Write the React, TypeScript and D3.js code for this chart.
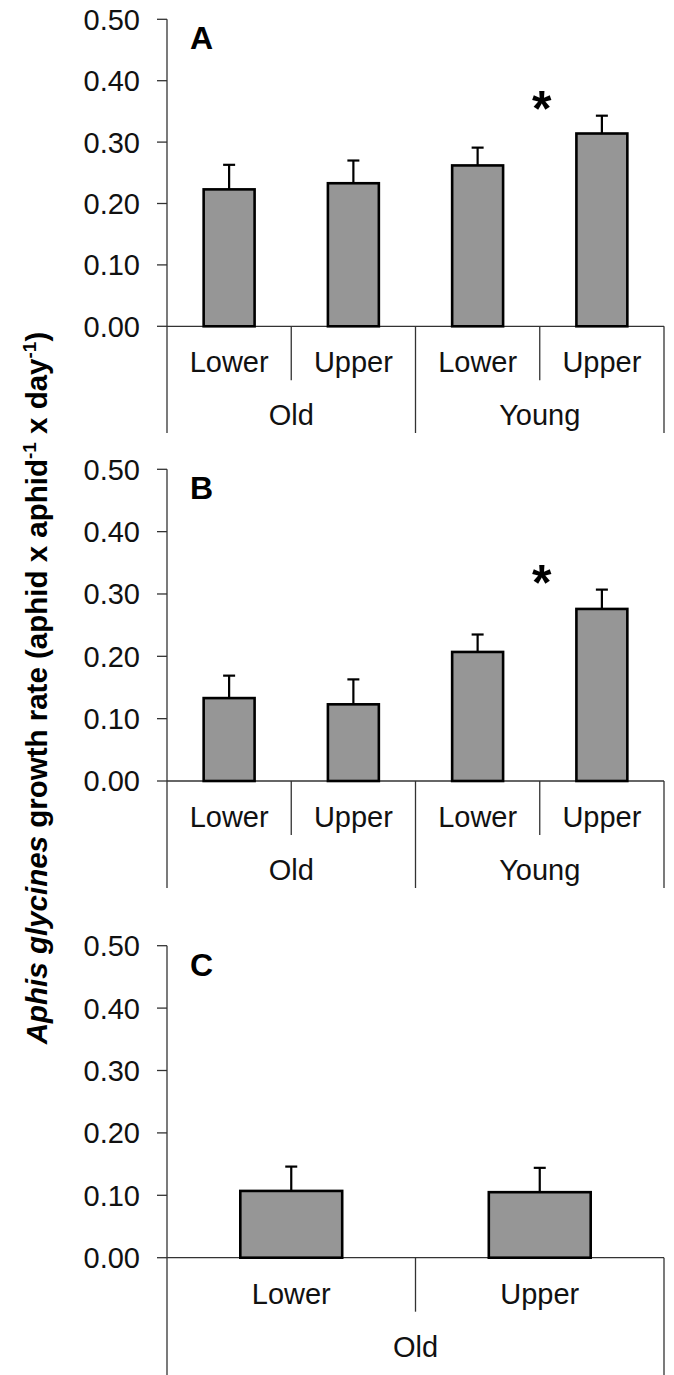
import React from "react";
import * as d3 from "d3";

// ---------- data ----------
const categoriesAB = ["Lower", "Upper", "Lower", "Upper"];
const groupsAB = ["Old", "Young"];
const categoriesC = ["Lower", "Upper"];
const groupsC = ["Old"];

const meansA = [0.223, 0.233, 0.262, 0.314];
const seA = [0.040, 0.037, 0.029, 0.029];
const meansB = [0.133, 0.123, 0.207, 0.276];
const seB = [0.036, 0.040, 0.028, 0.031];
const meansC = [0.107, 0.105];
const seC = [0.039, 0.039];

// significance star: [value level, category index whose left edge it sits on]
const starA = [0.37, 3];
const starB = [0.333, 3];

const yTicks = [0, 0.1, 0.2, 0.3, 0.4, 0.5];
const fmt = d3.format(".2f");

// ---------- layout ----------
const FONT = "'Liberation Sans', Arial, Helvetica, sans-serif";
const X0 = 167;
const X1 = 664;

type PanelProps = {
  letter: string;
  top: number;
  bottom: number;
  cats: string[];
  groups: string[];
  means: number[];
  se: number[];
  star?: number[];
  lineEnd: number;
};

function Panel({ letter, top, bottom, cats, groups, means, se, star, lineEnd }: PanelProps) {
  const y = d3.scaleLinear().domain([0, 0.5]).range([bottom, top]);
  const x = d3
    .scaleBand<number>()
    .domain(cats.map((_, i) => i))
    .range([X0, X1])
    .padding(0);
  const step = x.step();
  const barW = step * 0.41;
  const perGroup = cats.length / groups.length;
  const boundaries = d3.range(1, cats.length + 1);

  return (
    <g>
      {/* y axis */}
      <line x1={X0} x2={X0} y1={y(0.5)} y2={lineEnd} stroke="#333" strokeWidth={1.3} />
      {yTicks.map((t) => (
        <g key={t}>
          <line x1={X0 - 10} x2={X0} y1={y(t)} y2={y(t)} stroke="#333" strokeWidth={1.3} />
          <text
            x={140}
            y={y(t)}
            dy="0.36em"
            textAnchor="end"
            fontSize={29}
            fontFamily={FONT}
            fill="#111"
          >
            {fmt(t)}
          </text>
        </g>
      ))}
      {/* baseline */}
      <line x1={X0} x2={X1} y1={y(0)} y2={y(0)} stroke="#333" strokeWidth={1.3} />
      {/* separators */}
      {boundaries.map((b) => {
        const bx = X0 + b * step;
        const full = b % perGroup === 0;
        return (
          <line
            key={b}
            x1={bx}
            x2={bx}
            y1={y(0)}
            y2={full ? lineEnd : y(0) + 54}
            stroke="#333"
            strokeWidth={1.3}
          />
        );
      })}
      {/* bars */}
      {means.map((m, i) => {
        const cx = (x(i) as number) + step / 2;
        return (
          <g key={i}>
            <line
              x1={cx}
              x2={cx}
              y1={y(m)}
              y2={y(m + se[i])}
              stroke="#000"
              strokeWidth={2.2}
            />
            <line
              x1={cx - 6}
              x2={cx + 6}
              y1={y(m + se[i])}
              y2={y(m + se[i])}
              stroke="#000"
              strokeWidth={2.2}
            />
            <rect
              x={cx - barW / 2}
              y={y(m)}
              width={barW}
              height={y(0) - y(m)}
              fill="#969696"
              stroke="#000"
              strokeWidth={2.6}
            />
          </g>
        );
      })}
      {/* category labels */}
      {cats.map((c, i) => (
        <text
          key={i}
          x={(x(i) as number) + step / 2}
          y={y(0) + 46}
          textAnchor="middle"
          fontSize={29}
          fontFamily={FONT}
          fill="#111"
        >
          {c}
        </text>
      ))}
      {/* group labels */}
      {groups.map((g, gi) => (
        <text
          key={gi}
          x={X0 + (gi + 0.5) * perGroup * step}
          y={y(0) + 99}
          textAnchor="middle"
          fontSize={29}
          fontFamily={FONT}
          fill="#111"
        >
          {g}
        </text>
      ))}
      {/* panel letter */}
      <text
        x={190}
        y={top + 30}
        fontSize={32}
        fontWeight="bold"
        fontFamily={FONT}
        fill="#000"
      >
        {letter}
      </text>
      {star && (
        <text
          x={X0 + star[1] * step + 2}
          y={y(star[0]) + 27}
          textAnchor="middle"
          fontSize={50}
          fontWeight="bold"
          fontFamily={FONT}
          fill="#000"
        >
          *
        </text>
      )}
    </g>
  );
}

export default function App() {
  return (
    <svg
      width={674}
      height={1375}
      style={{ position: "absolute", left: 0, top: 0, background: "#fff" }}
    >
      <rect width={674} height={1375} fill="#fff" />
      <Panel
        letter="A"
        top={19.3}
        bottom={326.3}
        cats={categoriesAB}
        groups={groupsAB}
        means={meansA}
        se={seA}
        star={starA}
        lineEnd={433}
      />
      <Panel
        letter="B"
        top={469.3}
        bottom={781}
        cats={categoriesAB}
        groups={groupsAB}
        means={meansB}
        se={seB}
        star={starB}
        lineEnd={888}
      />
      <Panel
        letter="C"
        top={945.7}
        bottom={1257.7}
        cats={categoriesC}
        groups={groupsC}
        means={meansC}
        se={seC}
        lineEnd={1375}
      />
      <text
        transform="translate(47,688) rotate(-90)"
        textAnchor="middle"
        fontSize={29.5}
        fontWeight="bold"
        fontFamily={FONT}
        fill="#000"
      >
        <tspan fontStyle="italic">Aphis glycines</tspan>
        <tspan> growth rate (aphid x aphid</tspan>
        <tspan fontSize={19} dy={-11}>-1</tspan>
        <tspan dy={11}> x day</tspan>
        <tspan fontSize={19} dy={-11}>-1</tspan>
        <tspan dy={11}>)</tspan>
      </text>
    </svg>
  );
}
